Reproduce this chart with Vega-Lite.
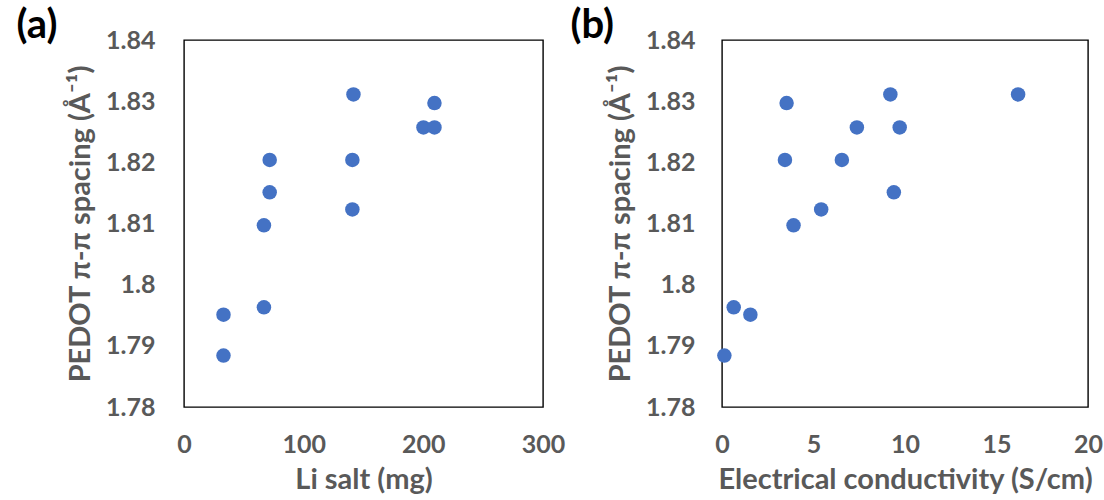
{
  "$schema": "https://vega.github.io/schema/vega-lite/v6.json",
  "padding": {"left": 15, "top": 5, "right": 0, "bottom": 0},
  "background": "white",
  "spacing": 3,
  "config": {
    "view": {"stroke": "#000000", "strokeWidth": 1.4},
    "font": "Lato",
    "axis": {
      "grid": false, "ticks": false, "domain": false,
      "labelFont": "Lato", "labelFontWeight": "bold", "labelFontSize": 25, "labelColor": "#595959",
      "titleFont": "Lato", "titleFontWeight": "bold", "titleFontSize": 29, "titleColor": "#595959"
    },
    "title": {"font": "Lato", "fontWeight": "bold", "fontSize": 40, "color": "#000000", "anchor": "start", "frame": "bounds"}
  },
  "datasets": {
    "li": [
      {"li_salt": 33, "spacing": 1.7951},
      {"li_salt": 33, "spacing": 1.7884},
      {"li_salt": 66.8, "spacing": 1.7963},
      {"li_salt": 66.8, "spacing": 1.8097},
      {"li_salt": 71.6, "spacing": 1.8151},
      {"li_salt": 71.6, "spacing": 1.8204},
      {"li_salt": 141.6, "spacing": 1.8311},
      {"li_salt": 140.7, "spacing": 1.8204},
      {"li_salt": 140.7, "spacing": 1.8123},
      {"li_salt": 200.1, "spacing": 1.8257},
      {"li_salt": 209.3, "spacing": 1.8257},
      {"li_salt": 209.3, "spacing": 1.8297}
    ],
    "cond": [
      {"conductivity": 0.13, "spacing": 1.7884},
      {"conductivity": 0.64, "spacing": 1.7963},
      {"conductivity": 1.55, "spacing": 1.7951},
      {"conductivity": 3.53, "spacing": 1.8297},
      {"conductivity": 3.44, "spacing": 1.8204},
      {"conductivity": 3.91, "spacing": 1.8097},
      {"conductivity": 5.42, "spacing": 1.8123},
      {"conductivity": 6.55, "spacing": 1.8204},
      {"conductivity": 7.37, "spacing": 1.8257},
      {"conductivity": 9.2, "spacing": 1.8311},
      {"conductivity": 9.71, "spacing": 1.8257},
      {"conductivity": 9.39, "spacing": 1.8151},
      {"conductivity": 16.18, "spacing": 1.8311}
    ]
  },
  "hconcat": [
    {
      "width": 359, "height": 367,
      "title": {"text": "(a)", "dx": -50, "offset": -18},
      "data": {"name": "li"},
      "mark": {"type": "circle", "size": 210, "opacity": 1, "color": "#4472C4", "clip": false},
      "encoding": {
        "x": {"field": "li_salt", "type": "quantitative", "title": "Li salt (mg)",
          "scale": {"domain": [0, 300], "nice": false},
          "axis": {"values": [0, 100, 200, 300], "labelPadding": 25, "titlePadding": 8, "labelFlush": false}},
        "y": {"field": "spacing", "type": "quantitative", "title": "PEDOT π-π spacing (Å⁻¹)",
          "scale": {"domain": [1.78, 1.84], "nice": false, "zero": false},
          "axis": {"values": [1.78, 1.79, 1.8, 1.81, 1.82, 1.83, 1.84], "format": ".3~g", "labelPadding": 29, "titlePadding": 10, "labelFlush": false}}
      }
    },
    {
      "width": 366, "height": 367,
      "title": {"text": "(b)", "dx": -36, "offset": -18},
      "data": {"name": "cond"},
      "mark": {"type": "circle", "size": 210, "opacity": 1, "color": "#4472C4", "clip": false},
      "encoding": {
        "x": {"field": "conductivity", "type": "quantitative", "title": "Electrical conductivity (S/cm)",
          "scale": {"domain": [0, 20], "nice": false},
          "axis": {"values": [0, 5, 10, 15, 20], "labelPadding": 25, "titlePadding": 8, "labelFlush": false}},
        "y": {"field": "spacing", "type": "quantitative", "title": "PEDOT π-π spacing (Å⁻¹)",
          "scale": {"domain": [1.78, 1.84], "nice": false, "zero": false},
          "axis": {"values": [1.78, 1.79, 1.8, 1.81, 1.82, 1.83, 1.84], "format": ".3~g", "labelPadding": 27, "titlePadding": 10, "labelFlush": false}}
      }
    }
  ]
}
